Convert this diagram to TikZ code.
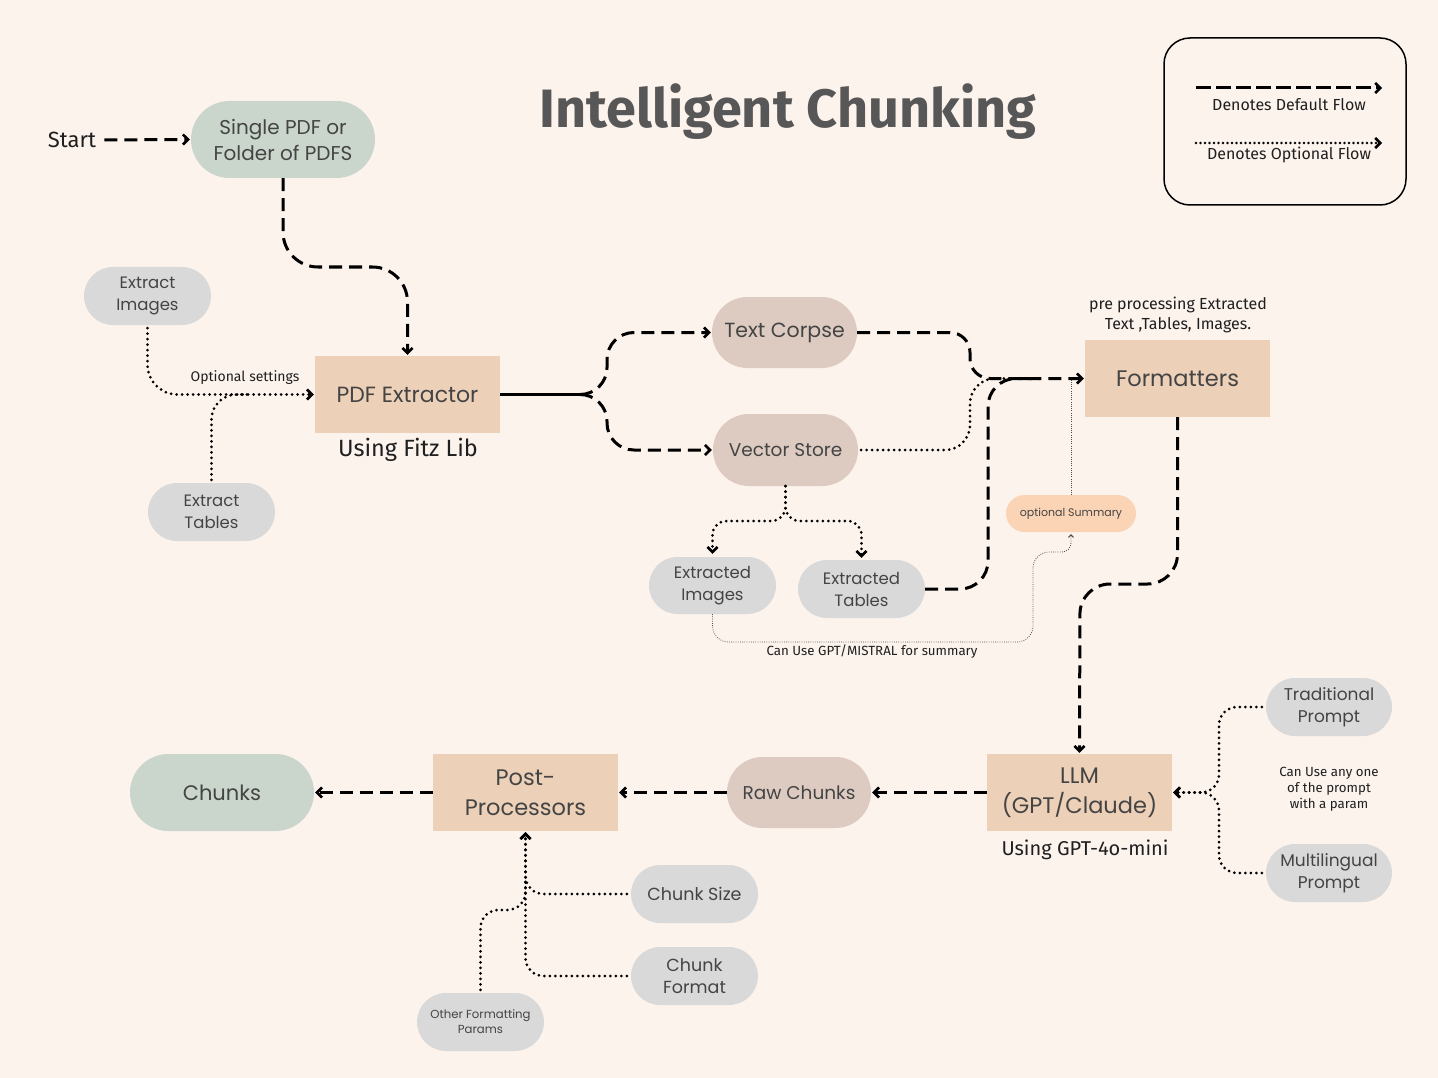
\documentclass[tikz,border=0pt]{standalone}
\usepackage{fontspec}
\setmainfont{Poppins}
\newfontfamily\labelfont{Fira Sans}
\usetikzlibrary{arrows.meta,shapes.misc}
\definecolor{bg}{HTML}{FCF3ED}
\definecolor{pgreen}{HTML}{CAD6CC}
\definecolor{pgray}{HTML}{D9D9D9}
\definecolor{pmauve}{HTML}{DDCBC2}
\definecolor{ptan}{HTML}{ECD0B8}
\definecolor{ppeach}{HTML}{FBD4B6}
\definecolor{txt}{HTML}{444444}
\definecolor{ttl}{HTML}{575757}
\newcommand\myfs[2]{\fontsize{#1}{#2}\selectfont}
\begin{document}
\begin{tikzpicture}[x=1pt,y=-1pt,
  pill/.style={rounded rectangle, inner sep=0pt, text=txt, align=center},
  greenpill/.style={pill, fill=pgreen},
  graypill/.style={pill, fill=pgray},
  mauvepill/.style={pill, fill=pmauve},
  tanbox/.style={rectangle, fill=ptan, inner sep=0pt, text=txt, align=center, minimum width=185pt, minimum height=77pt},
  lbl/.style={font=\labelfont, text=black!88, align=center, inner sep=0pt},
  dflow/.style={line width=3pt, dash pattern=on 13pt off 7pt, black},
  oflow/.style={line width=3pt, dash pattern=on 0pt off 5.5pt, line cap=round, black},
  thindot/.style={line width=0.8pt, dash pattern=on 0.8pt off 1.4pt, black!70},
  tip/.style={-{Straight Barb[length=5pt,width=10pt,line width=2.6pt]}},
  smalltip/.style={-{Straight Barb[length=2.5pt,width=5pt,line width=1pt]}}
]
\useasboundingbox[fill=bg] (0,0) rectangle (1438,1078);

% title and legend
\node[font=\labelfont\bfseries\myfs{54}{58}, text=ttl, inner sep=0pt] (title) at (788,112) {Intelligent Chunking};
\node[draw=black, line width=1.5pt, rounded corners=26pt, minimum width=242pt, minimum height=167pt, inner sep=0pt] (legend) at (1285,121.5) {};
\coordinate (la1) at (1196,88); \coordinate (lb1) at (1382,88);
\coordinate (la2) at (1196,143); \coordinate (lb2) at (1382,143);
\draw[dflow, dash pattern=on 15pt off 5pt, tip] (la1) -- (lb1);
\draw[oflow, dash pattern=on 0pt off 4.5pt, line width=2.6pt, tip] (la2) -- (lb2);
\node[lbl, font=\labelfont\myfs{16}{18}] (ld) at (1289,105) {Denotes Default Flow};
\node[lbl, font=\labelfont\myfs{16}{18}] (lo) at (1289,155) {Denotes Optional Flow};

% nodes
\node[lbl, font=\labelfont\myfs{22}{26}] (start) at (72,140) {Start};
\node[greenpill, minimum width=184pt, minimum height=77pt, font=\myfs{20}{26}] (pdfin) at (283,139.5) {Single PDF or\\Folder of PDFS};
\node[graypill, minimum width=127pt, minimum height=58pt, font=\myfs{16.5}{22}] (eimg) at (147.5,296) {Extract\\Images};
\node[graypill, minimum width=127pt, minimum height=58pt, font=\myfs{16.5}{22}] (etab) at (211.5,512) {Extract\\Tables};
\node[tanbox, font=\myfs{22}{28}] (pdfx) at (407.5,394.5) {PDF Extractor};
\node[lbl, font=\labelfont\myfs{23.5}{26}] (fitz) at (408,450) {Using Fitz Lib};
\node[lbl, font=\labelfont\myfs{14}{16}] (optset) at (245,378) {Optional settings};

\node[mauvepill, minimum width=145pt, minimum height=71pt, font=\myfs{20.5}{26}] (tc) at (784.5,332.5) {Text Corpse};
\node[mauvepill, minimum width=145pt, minimum height=72pt, font=\myfs{18.5}{24}] (vs) at (785.5,450) {Vector Store};
\node[graypill, minimum width=127pt, minimum height=57pt, font=\myfs{16.5}{22}] (ximg) at (712.5,585.5) {Extracted\\Images};
\node[graypill, minimum width=127pt, minimum height=58pt, font=\myfs{16.5}{22}] (xtab) at (861.5,589) {Extracted\\Tables};

\node[tanbox, font=\myfs{22.5}{28}] (fmt) at (1177.5,378.5) {Formatters};
\node[lbl, font=\labelfont\myfs{16}{20}] (pre) at (1178,315) {pre processing Extracted\\Text ,Tables, Images.};
\node[pill, fill=ppeach, minimum width=130pt, minimum height=37pt, font=\myfs{11}{14}] (osum) at (1071,513.5) {optional Summary};
\node[lbl, font=\labelfont\myfs{13.3}{16}] (gptm) at (872,652) {Can Use GPT/MISTRAL for summary};

\node[tanbox, font=\myfs{22.5}{30}] (llm) at (1079.5,792.5) {LLM\\(GPT/Claude)};
\node[lbl, font=\labelfont\myfs{20}{24}] (g4o) at (1085,850) {Using GPT-4o-mini};
\node[graypill, minimum width=126pt, minimum height=58pt, font=\myfs{17}{22}] (trad) at (1329,707) {Traditional\\Prompt};
\node[graypill, minimum width=126pt, minimum height=58pt, font=\myfs{17}{22}] (multi) at (1329,873) {Multilingual\\Prompt};
\node[lbl, font=\labelfont\myfs{13.3}{16}] (anyone) at (1329,789) {Can Use any one\\of the prompt\\with a param};

\node[mauvepill, minimum width=144pt, minimum height=71pt, font=\myfs{18.5}{24}] (raw) at (799,792.5) {Raw Chunks};
\node[tanbox, font=\myfs{22.5}{30}] (post) at (525.5,792.5) {Post-\\Processors};
\node[greenpill, minimum width=184pt, minimum height=77pt, font=\myfs{21}{26}] (chunks) at (222,792.5) {Chunks};
\node[graypill, minimum width=127pt, minimum height=58pt, font=\myfs{17.5}{22}] (csize) at (694.5,894) {Chunk Size};
\node[graypill, minimum width=127pt, minimum height=58pt, font=\myfs{17.5}{22}] (cfmt) at (694.5,976) {Chunk\\Format};
\node[graypill, minimum width=127pt, minimum height=58pt, font=\myfs{11.7}{15}] (other) at (480.5,1022) {Other Formatting\\Params};

% connectors
\draw[dflow, tip, shorten <=8pt, shorten >=1pt] (start.east) -- (pdfin.west);
\draw[dflow, tip, rounded corners=35pt, shorten >=1pt] (pdfin.south) -- (283,267) -- (407.5,267) -- (pdfx.north);
\draw[oflow, tip, rounded corners=30pt, shorten <=3pt, shorten >=1pt] (eimg.south) -- (147.5,394.5) -- (pdfx.west);
\draw[oflow, rounded corners=25pt, shorten <=3pt] (etab.north) -- (211.5,394.5) -- (250,394.5);

\coordinate (split) at (580,394.5);
\draw[line width=3pt] (pdfx.east) -- (split);
\draw[dflow, tip, rounded corners=27pt, shorten >=1pt] (split) -- (607,394.5) -- (607,332.5) -- (tc.west);
\draw[dflow, tip, rounded corners=27pt, shorten >=1pt] (split) -- (607,394.5) -- (607,450) -- (vs.west);

\draw[dflow, tip, rounded corners=20pt, shorten >=1pt] (tc.east) -- (970,332.5) -- (970,378.5) -- (fmt.west);
\draw[oflow, rounded corners=25pt, shorten <=3pt] (vs.east) -- (970,450) -- (970,378.5) -- (1010,378.5);
\draw[dflow, rounded corners=28pt] (xtab.east) -- (988,589) -- (988,378.5) -- (1040,378.5);

\draw[oflow, tip, rounded corners=14pt, shorten >=3pt] (vs.south) -- (785.5,521) -- (712.5,521) -- (ximg.north);
\draw[oflow, tip, rounded corners=14pt, shorten >=2pt] (vs.south) -- (785.5,521) -- (861.5,521) -- (xtab.north);

\draw[thindot] (osum.north) -- (1071,378.5);
\draw[thindot, smalltip, rounded corners=16pt, shorten >=2pt] (ximg.south) -- (712.5,642) -- (1033,642) -- (1033,552) [rounded corners=9pt] -- (1071,552) -- (osum.south);

\draw[dflow, tip, rounded corners=30pt, shorten >=1pt] (fmt.south) -- (1177.5,584) -- (1080,584) -- (llm.north);
\draw[dflow, tip, shorten >=1pt] (llm.west) -- (raw.east);
\draw[dflow, tip, shorten >=1pt] (raw.west) -- (post.east);
\draw[dflow, tip, shorten >=1pt] (post.west) -- (chunks.east);

\draw[oflow, tip, rounded corners=18pt, shorten <=4pt, shorten >=1pt] (trad.west) -- (1219,707) -- (1219,792.5) -- (llm.east);
\draw[oflow, tip, rounded corners=18pt, shorten <=4pt, shorten >=1pt] (multi.west) -- (1219,873) -- (1219,792.5) -- (llm.east);

\draw[oflow, tip, rounded corners=18pt, shorten <=4pt, shorten >=1pt] (csize.west) -- (525.5,894) -- (post.south);
\draw[oflow, tip, rounded corners=18pt, shorten <=4pt, shorten >=1pt] (cfmt.west) -- (525.5,976) -- (post.south);
\draw[oflow, rounded corners=18pt, shorten <=3pt] (other.north) -- (480.5,910) -- (525.5,910) -- (525.5,880);
\end{tikzpicture}
\end{document}
